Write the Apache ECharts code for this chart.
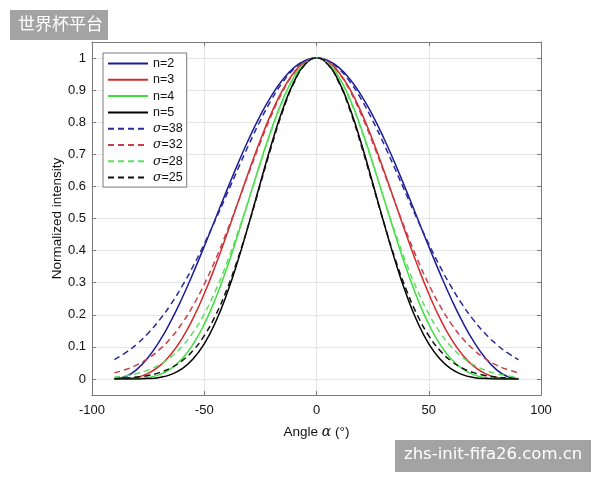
<!DOCTYPE html>
<html><head><meta charset="utf-8">
<script src="https://cdn.jsdelivr.net/npm/echarts@6/dist/echarts.min.js"></script>
<style>html,body{margin:0;padding:0;background:#fff}#c{width:600px;height:480px}</style>
</head><body><div id="c"></div>
<script>
const angles = [-90,-85,-80,-75,-70,-65,-60,-55,-50,-45,-40,-35,-30,-25,-20,-15,-10,-5,0,5,10,15,20,25,30,35,40,45,50,55,60,65,70,75,80,85,90];
const n2 = [0,0.0076,0.0302,0.0670,0.1170,0.1786,0.25,0.3290,0.4132,0.5,0.5868,0.6710,0.75,0.8214,0.8830,0.9330,0.9698,0.9924,1,0.9924,0.9698,0.9330,0.8830,0.8214,0.75,0.6710,0.5868,0.5,0.4132,0.3290,0.25,0.1786,0.1170,0.0670,0.0302,0.0076,0];
const n3 = [0,0.0007,0.0052,0.0173,0.0400,0.0755,0.125,0.1887,0.2656,0.3536,0.4495,0.5497,0.6495,0.7444,0.8298,0.9012,0.9551,0.9886,1,0.9886,0.9551,0.9012,0.8298,0.7444,0.6495,0.5497,0.4495,0.3536,0.2656,0.1887,0.125,0.0755,0.0400,0.0173,0.0052,0.0007,0];
const n4 = [0,0.0001,0.0009,0.0045,0.0137,0.0319,0.0625,0.1082,0.1707,0.25,0.3443,0.4502,0.5625,0.6747,0.7797,0.8705,0.9406,0.9849,1,0.9849,0.9406,0.8705,0.7797,0.6747,0.5625,0.4502,0.3443,0.25,0.1707,0.1082,0.0625,0.0319,0.0137,0.0045,0.0009,0.0001,0];
const n5 = [0,0,0.0002,0.0012,0.0047,0.0135,0.0313,0.0621,0.1097,0.1768,0.2638,0.3688,0.4871,0.6115,0.7327,0.8408,0.9263,0.9811,1,0.9811,0.9263,0.8408,0.7327,0.6115,0.4871,0.3688,0.2638,0.1768,0.1097,0.0621,0.0313,0.0135,0.0047,0.0012,0.0002,0,0];
const s38 = [0.0605,0.0819,0.1090,0.1426,0.1833,0.2315,0.2875,0.3508,0.4208,0.4960,0.5747,0.6543,0.7323,0.8054,0.8707,0.9250,0.9660,0.9914,1,0.9914,0.9660,0.9250,0.8707,0.8054,0.7323,0.6543,0.5747,0.4960,0.4208,0.3508,0.2875,0.2315,0.1833,0.1426,0.1090,0.0819,0.0605];
const s32 = [0.0192,0.0294,0.0439,0.0641,0.0914,0.1271,0.1724,0.2283,0.2950,0.3720,0.4578,0.5499,0.6444,0.7370,0.8226,0.8960,0.9523,0.9879,1,0.9879,0.9523,0.8960,0.8226,0.7370,0.6444,0.5499,0.4578,0.3720,0.2950,0.2283,0.1724,0.1271,0.0914,0.0641,0.0439,0.0294,0.0192];
const s28 = [0.0057,0.0100,0.0169,0.0277,0.0439,0.0676,0.1007,0.1453,0.2030,0.2749,0.3605,0.4578,0.5633,0.6713,0.7748,0.8663,0.9382,0.9842,1,0.9842,0.9382,0.8663,0.7748,0.6713,0.5633,0.4578,0.3605,0.2749,0.2030,0.1453,0.1007,0.0676,0.0439,0.0277,0.0169,0.0100,0.0057];
const s25 = [0.0015,0.0031,0.0060,0.0111,0.0198,0.0340,0.0561,0.0889,0.1353,0.1979,0.2780,0.3753,0.4868,0.6065,0.7261,0.8353,0.9231,0.9802,1,0.9802,0.9231,0.8353,0.7261,0.6065,0.4868,0.3753,0.2780,0.1979,0.1353,0.0889,0.0561,0.0340,0.0198,0.0111,0.0060,0.0031,0.0015];
const seriesNames = ['n=2','n=3','n=4','n=5','σ=38','σ=32','σ=28','σ=25'];
const seriesData = [n2,n3,n4,n5,s38,s32,s28,s25];
const xTicks = [-100,-50,0,50,100];
const yTicks = [0,0.1,0.2,0.3,0.4,0.5,0.6,0.7,0.8,0.9,1];

const colors = ['#1c1c96','#d42a2a','#3ede3e','#000000','#2a2a9a','#c8404e','#5ee05e','#111111'];
const dashed = [false,false,false,false,true,true,true,true];

const chart = echarts.init(document.getElementById('c'));
const FONT = 'Liberation Sans';
const AX = '#7a7a7a';
const series = seriesNames.map((nm,i)=>({
  name: nm, type:'line', xAxisIndex:2, yAxisIndex:2,
  data: angles.map((a,k)=>[a, seriesData[i][k]]),
  smooth: true, showSymbol:false, symbol:'none',
  lineStyle:{color:colors[i], width:1.5, type: dashed[i] ? [6,4] : 'solid'},
  itemStyle:{color:colors[i]},
  z: 3
}));
const lineOnly = {show:true, onZero:false, lineStyle:{color:AX, width:1}};
const tickIn = {show:true, inside:true, length:4, lineStyle:{color:AX}};
chart.setOption({
  animation:false,
  textStyle:{fontFamily:FONT},
  grid:[
    {left:92, right:59, top:42, bottom:85},
    {left:92, right:59, top:58, bottom:101}
  ],
  legend:{
    orient:'vertical', left:103, top:53,
    data: seriesNames,
    itemWidth:40, itemHeight:10, itemGap:3.3,
    padding:[4,4,3,4],
    itemStyle:{opacity:0},
    borderColor:AX, borderWidth:1, backgroundColor:'#fff',
    textStyle:{fontFamily:FONT, fontSize:12.5, color:'#111',
      rich:{i:{fontFamily:'DejaVu Serif', fontStyle:'italic', fontSize:12.5, color:'#111'}}},
    formatter: nm => nm.startsWith('σ') ? '{i|σ}' + nm.slice(1) : nm
  },
  xAxis:[{
    type:'value', gridIndex:0, min:-100, max:100, interval:50, position:'bottom',
    axisLine:lineOnly, axisTick:tickIn,
    axisLabel:{fontFamily:FONT, fontSize:13, color:'#111', margin:9,
      formatter: v => xTicks.includes(v) ? String(v) : ''},
    splitLine:{show:true, lineStyle:{color:'#e6e6e6', width:1}},
    name:'{t|Angle }{a|α}{t| (°)}', nameLocation:'middle', nameGap:30,
    nameTextStyle:{rich:{t:{fontFamily:FONT, fontSize:13.5, color:'#111'}, a:{fontFamily:'DejaVu Serif', fontStyle:'italic', fontSize:14, color:'#111'}}}
  },{
    type:'value', gridIndex:0, min:-100, max:100, interval:50, position:'top',
    axisLine:lineOnly, axisTick:tickIn, axisLabel:{show:false}, splitLine:{show:false}
  },{
    type:'value', gridIndex:1, min:-100, max:100, show:false
  }],
  yAxis:[{
    type:'value', gridIndex:0, min:-0.05, max:1.05, position:'left',
    axisLine:lineOnly, axisTick:{show:false}, axisLabel:{show:false}, splitLine:{show:false}
  },{
    type:'value', gridIndex:0, min:-0.05, max:1.05, position:'right',
    axisLine:lineOnly, axisTick:{show:false}, axisLabel:{show:false}, splitLine:{show:false}
  },{
    type:'value', gridIndex:1, min:0, max:1, interval:0.1, position:'left',
    axisLine:{show:false, onZero:false}, axisTick:tickIn,
    axisLabel:{fontFamily:FONT, fontSize:13, color:'#111', margin:6,
      formatter: v => { const r = Math.round(v*10)/10; return yTicks.includes(r) ? String(r) : ''; }},
    splitLine:{show:true, lineStyle:{color:'#e6e6e6', width:1}},
    name:'Normalized intensity', nameLocation:'middle', nameGap:28, nameRotate:90,
    nameMoveOverlap:false,
    nameTextStyle:{fontFamily:FONT, fontSize:13.5, color:'#111'}
  },{
    type:'value', gridIndex:1, min:0, max:1, interval:0.1, position:'right',
    axisLine:{show:false, onZero:false}, axisTick:tickIn, axisLabel:{show:false}, splitLine:{show:false}
  }],
  series: series,
  graphic:[
    {type:'rect', left:10, top:10, shape:{width:98, height:30}, style:{fill:'#a3a3a3'}, z:100},
    {type:'text', left:18, top:15, style:{text:'世界杯平台', fill:'#fff', font:'17px "Noto Sans CJK SC"'}, z:101},
    {type:'rect', left:395, top:440, shape:{width:196, height:32}, style:{fill:'#a3a3a3'}, z:100},
    {type:'text', left:404, top:446, style:{text:'zhs-init-fifa26.com.cn', fill:'#fff', font:'16.5px "DejaVu Sans"'}, z:101}
  ]
});
</script></body></html>
